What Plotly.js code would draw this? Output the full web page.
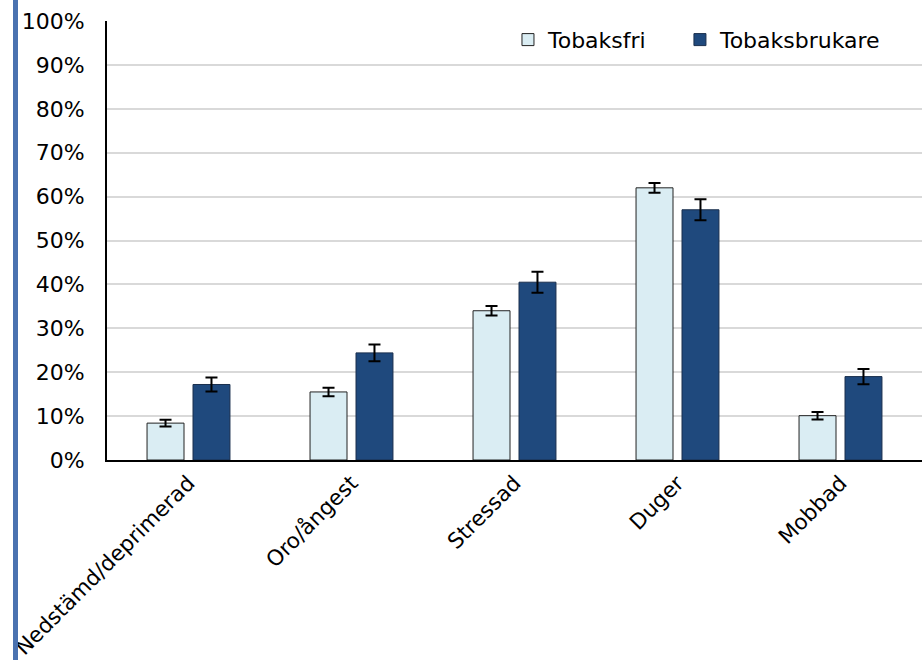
<!DOCTYPE html>
<html>
<head>
<meta charset="utf-8">
<script src="https://cdn.plot.ly/plotly-3.0.1.min.js"></script>
<style>
html,body{margin:0;padding:0;background:#fff;}
#wrap{position:relative;width:922px;height:660px;}
#bluebar{position:absolute;left:13px;top:0;width:5px;height:660px;background:#4a72b0;z-index:5;}
#chart{width:922px;height:660px;}
</style>
</head>
<body>
<div id="wrap"><div id="bluebar"></div><div id="chart"></div></div>
<script>
const categories = ["Nedstämd/deprimerad", "Oro/ångest", "Stressad", "Duger", "Mobbad"];
const tobaksfri = [8.4, 15.5, 34.0, 62.0, 10.1];
const tobaksfriErr = [0.75, 0.95, 1.1, 1.1, 0.85];
const tobaksbrukare = [17.2, 24.4, 40.5, 57.0, 19.0];
const tobaksbrukareErr = [1.6, 1.9, 2.4, 2.4, 1.75];
const yTickVals = [0,10,20,30,40,50,60,70,80,90,100];
const yTickText = ["0%","10%","20%","30%","40%","50%","60%","70%","80%","90%","100%"];

const font = "Tahoma, 'DejaVu Sans', sans-serif";

const traces = [
  {
    type: "bar", name: "Tobaksfri", x: categories, y: tobaksfri, legend: "legend",
    marker: {color: "#daedf3", line: {color: "#222", width: 1}},
    error_y: {type: "data", array: tobaksfriErr, visible: true, color: "#000", thickness: 2, width: 6}
  },
  {
    type: "bar", name: "Tobaksbrukare", x: categories, y: tobaksbrukare, legend: "legend2",
    marker: {color: "#1f497d", line: {color: "#1a2f4d", width: 1}},
    error_y: {type: "data", array: tobaksbrukareErr, visible: true, color: "#000", thickness: 2, width: 6}
  }
];

const legendStyle = {orientation: "h", y: 1.005, xanchor: "left", yanchor: "top",
  font: {family: font, size: 22, color: "#000"}, bgcolor: "rgba(0,0,0,0)"};

const layout = {
  width: 922, height: 660,
  margin: {l: 107, r: 0, t: 21, b: 200},
  paper_bgcolor: "#fff", plot_bgcolor: "#fff",
  font: {family: font, size: 22, color: "#000"},
  barmode: "group", bargap: 0.436, bargroupgap: 0.196,
  showlegend: true,
  legend: Object.assign({}, legendStyle, {x: 0.492}),
  legend2: Object.assign({}, legendStyle, {x: 0.703}),
  xaxis: {
    type: "category", tickangle: -45, showgrid: false,
    showline: true, linecolor: "#000", linewidth: 2,
    ticks: "", tickfont: {family: font, size: 21.5, color: "#000"}
  },
  yaxis: {
    range: [0, 100], tickvals: yTickVals, ticktext: yTickText,
    showgrid: true, gridcolor: "#d9d9d9", gridwidth: 2,
    showline: true, linecolor: "#000", linewidth: 2,
    zeroline: false, ticks: "outside", ticklen: 16, tickcolor: "rgba(0,0,0,0)",
    tickfont: {family: font, size: 22, color: "#000"}
  }
};

Plotly.newPlot("chart", traces, layout, {displayModeBar: false, staticPlot: true});
</script>
</body>
</html>
